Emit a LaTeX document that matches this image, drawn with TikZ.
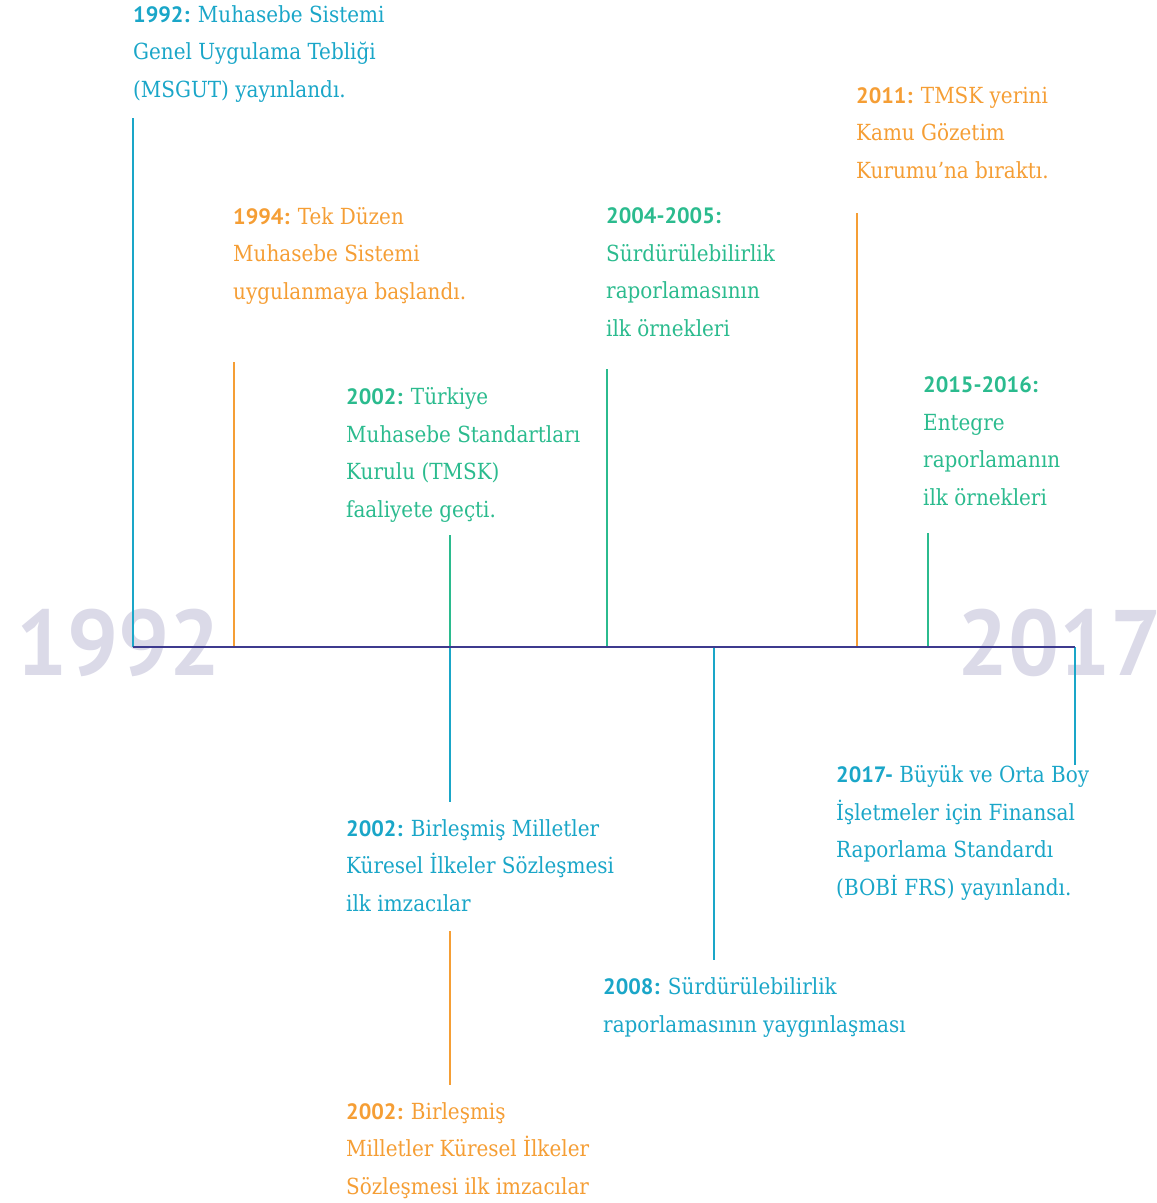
\documentclass[tikz,border=0pt]{standalone}
\usepackage{fontspec}
\setmainfont{DejaVu Serif Condensed}
\newfontfamily\yearfont{PT Sans}
\usetikzlibrary{positioning}
\definecolor{tlblue}{HTML}{1AA6C8}
\definecolor{tlorange}{HTML}{F59E35}
\definecolor{tlgreen}{HTML}{2BBB8E}
\definecolor{tlaxis}{HTML}{3D3A8E}
\definecolor{tlghost}{HTML}{DBDAE8}
\newcommand{\yr}[1]{{\yearfont\bfseries #1}}
\newcommand{\ghostyr}[1]{\scalebox{0.97}[1]{#1}}
\tikzset{
  % anchored at the baseline of the last line
  ev/.style={anchor=base west, inner sep=0pt, align=left, font=\fontsize{22.2}{37.5}\selectfont},
  evb/.style={ev, text=tlblue},
  evo/.style={ev, text=tlorange},
  evg/.style={ev, text=tlgreen},
  tick/.style={line width=2.2pt},
  tb/.style={tick, draw=tlblue},
  to/.style={tick, draw=tlorange},
  tg/.style={tick, draw=tlgreen},
  axis/.style={line width=2.5pt, draw=tlaxis},
  ghost/.style={anchor=base west, inner sep=0pt, text=tlghost, font=\fontsize{93}{93}\yearfont\bfseries},
}

\begin{document}
\begin{tikzpicture}[x=1pt, y=-1pt]
  \useasboundingbox (0,0) rectangle (1157,1203);
  % big years behind the axis
  \node[ghost] (g1992) at (16,675) {\ghostyr{1992}};
  \node[ghost] (g2017) at (957,675) {\ghostyr{2017}};
  % points on the axis
  \coordinate (a1992) at (133,647);
  \coordinate (a1994) at (234,647);
  \coordinate (a2002) at (450,647);
  \coordinate (a2004) at (607,647);
  \coordinate (a2008) at (714,647);
  \coordinate (a2011) at (857,647);
  \coordinate (a2015) at (928,647);
  \coordinate (a2017) at (1075,647);
  % free ends of the ticks
  \coordinate (t1992) at (133,118);
  \coordinate (t1994) at (234,362);
  \coordinate (t2002) at (450,535);
  \coordinate (b2002) at (450,802);
  \coordinate (t2004) at (607,369);
  \coordinate (b2008) at (714,960);
  \coordinate (t2011) at (857,213);
  \coordinate (t2015) at (928,533);
  \coordinate (b2017) at (1075,765);
  \coordinate (u1) at (450,931);
  \coordinate (u2) at (450,1085);
  % events
  \node[evb] (e1992) at (133,97) {\yr{1992:} Muhasebe Sistemi\\Genel Uygulama Tebliği\\(MSGUT) yayınlandı.};
  \node[evo] (e1994) at (233,299) {\yr{1994:} Tek Düzen\\Muhasebe Sistemi\\uygulanmaya başlandı.};
  \node[evg] (e2002a) at (346,517) {\yr{2002:} Türkiye\\Muhasebe Standartları\\Kurulu (TMSK)\\faaliyete geçti.};
  \node[evg] (e2004) at (606,336) {\yr{2004-2005:}\\Sürdürülebilirlik\\raporlamasının\\ilk örnekleri};
  \node[evo] (e2011) at (856,178) {\yr{2011:} TMSK yerini\\Kamu Gözetim\\Kurumu’na bıraktı.};
  \node[evg] (e2015) at (923,505) {\yr{2015-2016:}\\Entegre\\raporlamanın\\ilk örnekleri};
  \node[evb] (e2002b) at (346,911) {\yr{2002:} Birleşmiş Milletler\\Küresel İlkeler Sözleşmesi\\ilk imzacılar};
  \node[evb] (e2008) at (603,1032) {\yr{2008:} Sürdürülebilirlik\\raporlamasının yaygınlaşması};
  \node[evb] (e2017) at (836,895) {\yr{2017-} Büyük ve Orta Boy\\İşletmeler için Finansal\\Raporlama Standardı\\(BOBİ FRS) yayınlandı.};
  \node[evo] (e2002c) at (346,1194) {\yr{2002:} Birleşmiş\\Milletler Küresel İlkeler\\Sözleşmesi ilk imzacılar};
  % ticks
  \draw[tb] (a1992) -- (t1992);
  \draw[to] (a1994) -- (t1994);
  \draw[tg] (a2002) -- (t2002);
  \draw[tb] (a2002) -- (b2002);
  \draw[tg] (a2004) -- (t2004);
  \draw[tb] (a2008) -- (b2008);
  \draw[to] (a2011) -- (t2011);
  \draw[tg] (a2015) -- (t2015);
  \draw[tb] (a2017) -- (b2017);
  \draw[to] (u1) -- (u2);
  % axis
  \draw[axis] (a1992) -- (a2017);
\end{tikzpicture}
\end{document}
